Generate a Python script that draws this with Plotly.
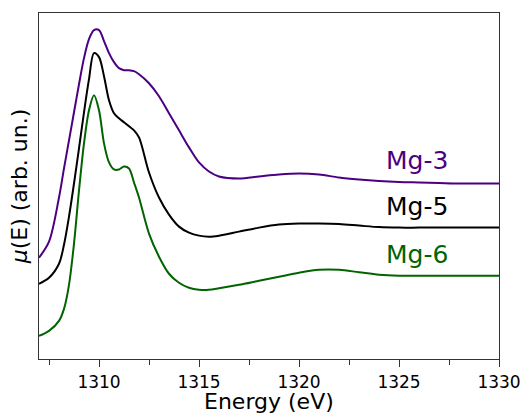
import plotly.graph_objects as go

energy = [1307, 1307.5, 1308, 1308.25, 1308.5, 1308.75, 1309, 1309.25, 1309.5, 1309.75,
          1310, 1310.25, 1310.5, 1310.75, 1311, 1311.25, 1311.5, 1311.75, 1312,
          1312.5, 1313, 1313.5, 1314, 1314.5, 1315, 1315.5, 1316,
          1317, 1318, 1319, 1320, 1321, 1322, 1323, 1324, 1325, 1326, 1327, 1328, 1329, 1330]

mg3 = [1.01, 1.17, 1.61, 1.90, 2.18, 2.46, 2.74, 3.00, 3.19, 3.28,
       3.28, 3.17, 3.05, 2.96, 2.90, 2.88, 2.88, 2.87, 2.84,
       2.75, 2.62, 2.45, 2.28, 2.11, 1.96, 1.87, 1.82,
       1.80, 1.82, 1.84, 1.85, 1.84, 1.81, 1.79, 1.775, 1.765, 1.76, 1.755, 1.75, 1.75, 1.75]

mg5 = [0.75, 0.81, 0.95, 1.14, 1.42, 1.75, 2.10, 2.46, 2.79, 3.05,
       3.01, 2.82, 2.58, 2.45, 2.40, 2.36, 2.32, 2.28, 2.21,
       1.86, 1.61, 1.44, 1.32, 1.26, 1.23, 1.22, 1.23,
       1.27, 1.31, 1.34, 1.35, 1.35, 1.345, 1.33, 1.315, 1.31, 1.31, 1.31, 1.31, 1.31, 1.31]

mg6 = [0.23, 0.28, 0.38, 0.50, 0.74, 1.15, 1.68, 2.15, 2.48, 2.63,
       2.48, 2.15, 1.96, 1.89, 1.89, 1.92, 1.90, 1.76, 1.61,
       1.25, 1.02, 0.85, 0.76, 0.71, 0.69, 0.69, 0.705,
       0.74, 0.78, 0.82, 0.86, 0.89, 0.89, 0.865, 0.84, 0.83, 0.83, 0.83, 0.83, 0.83, 0.83]

names = ["Mg-3", "Mg-5", "Mg-6"]
series = [mg3, mg5, mg6]
colors = ["#4B0082", "#000000", "#006400"]
label_x = [1325.9, 1325.9, 1325.9]
label_y = [1.98, 1.52, 1.04]

FONT = "DejaVu Sans"
fig = go.Figure()
for name, ys, c in zip(names, series, colors):
    fig.add_trace(go.Scatter(x=energy, y=ys, mode="lines", name=name,
                             line=dict(color=c, width=2, shape="spline", smoothing=0.9),
                             showlegend=False))
for name, lx, ly, c in zip(names, label_x, label_y, colors):
    fig.add_annotation(x=lx, y=ly, text=name, showarrow=False,
                       font=dict(family=FONT, size=25, color=c),
                       xanchor="center", yanchor="middle")

# x-axis title (paper annotation so it sits low like the reference)
fig.add_annotation(x=0.5, y=-0.085, xref="paper", yref="paper", text="Energy (eV)",
                   showarrow=False, xanchor="center", yanchor="top", borderpad=0,
                   font=dict(family=FONT, size=22, color="black"))

fig.update_layout(
    width=528, height=415,
    margin=dict(l=39, r=29, t=13, b=56),
    paper_bgcolor="white", plot_bgcolor="white",
    font=dict(family=FONT, color="black"),
    xaxis=dict(range=[1307, 1330], tickmode="linear", tick0=1310, dtick=5,
               ticks="outside", ticklen=7, tickwidth=1.2, tickcolor="#333",
               tickfont=dict(size=17, family=FONT),
               minor=dict(tick0=1307.5, dtick=2.5, ticks="outside", ticklen=5,
                          tickwidth=1.2, tickcolor="#333"),
               showline=True, linecolor="#333", linewidth=1.3, mirror=True,
               showgrid=False, zeroline=False, automargin=False),
    yaxis=dict(range=[0, 3.45], showticklabels=False, ticks="",
               showline=True, linecolor="#333", linewidth=1.3, mirror=True,
               showgrid=False, zeroline=False, automargin=False,
               title=dict(text="<i>μ</i>(E) (arb. un.)", font=dict(size=22, family=FONT), standoff=4)),
)
fig.write_html("out.html")
